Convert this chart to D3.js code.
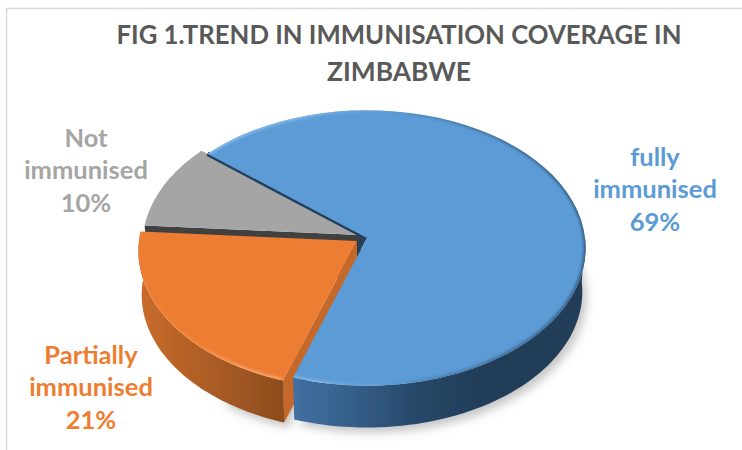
<!DOCTYPE html>
<html><head><meta charset="utf-8">
<script src="https://cdn.jsdelivr.net/npm/d3@7/dist/d3.min.js"></script>
<style>html,body{margin:0;padding:0;background:#fff}svg{display:block}</style></head>
<body><svg id="c" width="742" height="450"></svg>
<script>
const titleLines = ["FIG 1.TREND IN IMMUNISATION COVERAGE IN", "ZIMBABWE"];
const categories = ["fully immunised", "Partially immunised", "Not immunised"];
const values = [69, 21, 10];
const labelLines = [["fully", "immunised", "69%"], ["Partially", "immunised", "21%"], ["Not", "immunised", "10%"]];
const colors = ["#5b9bd5", "#ed7d31", "#a5a5a5"];

const svg = d3.select("#c");
const defs = svg.append("defs");

// frame
svg.append("path").attr("d", `M6.5 450V8.5H742`).attr("fill", "none").attr("stroke", "#d9d9d9").attr("stroke-width", 1.5);

// title
const title = svg.append("g").attr("font-family", "Lato").attr("font-weight", 700).attr("font-size", 27.5).attr("fill", "#595959").attr("text-anchor", "middle");
title.append("text").attr("x", 399).attr("y", 44).attr("textLength", 565).attr("lengthAdjust", "spacingAndGlyphs").text(titleLines[0]);
title.append("text").attr("x", 399).attr("y", 81).attr("textLength", 144).attr("lengthAdjust", "spacingAndGlyphs").text(titleLines[1]);

// pie layout through d3
const pie = d3.pie().sort(null).startAngle(310 * Math.PI / 180).endAngle((310 + 360) * Math.PI / 180);
const arcs = pie(values);

// perspective projection of the unit disc
const rx = 218, k = 137, p = 0.0725, depth = 44, cx = 367, cy = 238;
const offsets = [[0, 0], [-10, 3], [-6, -3]];
function proj(a, r, off, low) {
  const u = Math.sin(a) * r, v = -Math.cos(a) * r, s = 1 / (1 - p * v), f = low ? 0.985 : 1;
  return [cx + off[0] + rx * u * s * f, cy + off[1] + k * v * s * f + (low ? depth : 0)];
}
const line = d3.line();
const sample = (a0, a1) => d3.range(0, 61).map(i => a0 + (a1 - a0) * i / 60);
const rim = (a0, a1, off, low) => sample(a0, a1).map(a => proj(a, 1, off, low));
const topPath = (d, off) => line([proj(d.startAngle, 0, off), ...rim(d.startAngle, d.endAngle, off)]) + "Z";
const wallPath = (a0, a1, off) => line([...rim(a0, a1, off), ...rim(a0, a1, off, true).reverse()]) + "Z";
const radialPath = (a, off) => line([proj(a, 0, off), proj(a, 1, off), proj(a, 1, off, true), proj(a, 0, off, true)]) + "Z";

// filters & gradients
const blur = (id, s) => defs.append("filter").attr("id", id).attr("x", "-20%").attr("y", "-20%").attr("width", "140%").attr("height", "140%")
  .append("feGaussianBlur").attr("stdDeviation", s);
blur("shadow", 5); blur("soft", 1.6); blur("fine", 0.45);
const grad = (id, x1, x2, stops) => {
  const g = defs.append("linearGradient").attr("id", id).attr("gradientUnits", "userSpaceOnUse").attr("x1", x1).attr("x2", x2).attr("y1", 0).attr("y2", 0);
  stops.forEach(s => g.append("stop").attr("offset", s[0]).attr("stop-color", s[1]).attr("stop-opacity", s[2] === undefined ? 1 : s[2]));
};
grad("wallBlue", 295, 480, [[0, "#406fa0"], [0.3, "#35608a"], [0.65, "#27486a"], [1, "#223d58"]]);
grad("wallOrange", 138, 285, [[0, "#c96c2b"], [0.45, "#ae5e26"], [1, "#8c4c1d"]]);
grad("rimOrange", 140, 285, [[0, "#f59a55", 0], [0.3, "#f59a55", 0.35], [0.7, "#f9ab72", 0.9], [1, "#f9ab72", 1]]);
grad("rimBlue", 295, 420, [[0, "#8cc0ee", 1], [0.5, "#7fb3e6", 0.35], [1, "#7fb3e6", 0]]);
grad("rimDark", 380, 587, [[0, "#24425f", 0], [0.5, "#24425f", 0.6], [1, "#24425f", 0.9]]);

const marks = svg.append("g").attr("filter", "url(#fine)");
const [blue, orange, gray] = arcs;
const [oB, oO, oG] = offsets;

// ground shadow
const shadow = svg.insert("g", "g:last-of-type").attr("filter", "url(#shadow)").attr("fill", "#c4c4c4").attr("transform", "translate(4,5)");
shadow.append("path").attr("d", line(rim(blue.startAngle + 1.6, blue.endAngle, oB, true)) + "Z");
shadow.append("path").attr("d", line(rim(orange.startAngle, orange.endAngle - 1, oO, true)) + "L" + proj(0, 0, oO, true) + "Z");

// gray slice, with the dark front face showing above the orange slice
marks.append("path").attr("d", radialPath(gray.startAngle, oG)).attr("fill", "#404040");
marks.append("path").attr("d", topPath(gray, oG)).attr("fill", colors[2]);
// dark seam between the gray slice and the blue slice
marks.append("path").attr("d", line([proj(blue.startAngle, 0, oB), proj(blue.startAngle, 1, oB)])).attr("stroke", "#23405c").attr("stroke-width", 4.5).attr("fill", "none");

// dark gap at the centre
const lerp = (a, b, t) => [a[0] + (b[0] - a[0]) * t, a[1] + (b[1] - a[1]) * t];
marks.append("path").attr("d", line([proj(0, 0, oG), proj(0, 0, oB), lerp(proj(0, 0, oB), proj(blue.endAngle, 1, oB), 0.16), proj(0, 0, oO)]) + "Z").attr("fill", "#2b4158");

// orange slice
marks.append("path").attr("d", radialPath(orange.startAngle, oO)).attr("fill", "#c5682a");
marks.append("path").attr("d", wallPath(orange.startAngle, orange.endAngle, oO)).attr("fill", "url(#wallOrange)");
marks.append("path").attr("d", topPath(orange, oO)).attr("fill", colors[1]);
defs.append("clipPath").attr("id", "clipO").append("path").attr("d", topPath(orange, oO));
marks.append("g").attr("clip-path", "url(#clipO)").append("path")
  .attr("d", line(rim(orange.startAngle, orange.endAngle, oO))).attr("fill", "none")
  .attr("stroke", "url(#rimOrange)").attr("stroke-width", 3.5).attr("filter", "url(#soft)");

// blue slice: only the front of the side wall shows (from 3 o'clock round to the slice end)
const frontStart = Math.PI * 2.5;
marks.append("path").attr("d", wallPath(frontStart, blue.endAngle, oB)).attr("fill", "url(#wallBlue)");
marks.append("path").attr("d", topPath(blue, oB)).attr("fill", colors[0]);
defs.append("clipPath").attr("id", "clipB").append("path").attr("d", topPath(blue, oB));
const clipped = marks.append("g").attr("clip-path", "url(#clipB)");
clipped.append("path").attr("d", line(rim(blue.startAngle, blue.endAngle, oB))).attr("fill", "none")
  .attr("stroke", "url(#rimDark)").attr("stroke-width", 3).attr("filter", "url(#soft)");
clipped.append("path").attr("d", line(rim(blue.startAngle, blue.endAngle, oB))).attr("fill", "none")
  .attr("stroke", "url(#rimBlue)").attr("stroke-width", 3.5).attr("filter", "url(#soft)");

// data labels
const labelAt = [[655, 166], [91, 364], [86, 147]];
const labels = svg.append("g").attr("font-family", "Lato").attr("font-weight", 700).attr("font-size", 25.5).attr("text-anchor", "middle");
labelLines.forEach((ls, i) => ls.forEach((t, j) => labels.append("text")
  .attr("x", labelAt[i][0]).attr("y", labelAt[i][1] + j * 32.3).attr("fill", colors[i]).text(t)));
</script></body></html>
